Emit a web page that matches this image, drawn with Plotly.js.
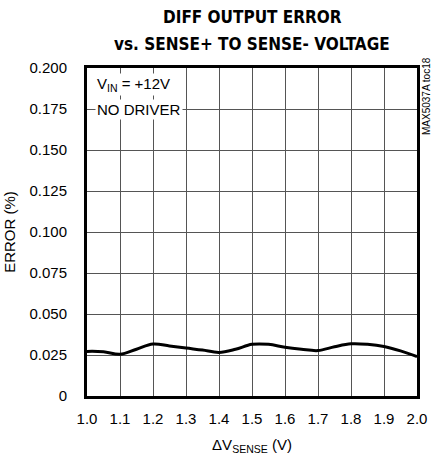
<!DOCTYPE html>
<html>
<head>
<meta charset="utf-8">
<script src="https://cdn.plot.ly/plotly-3.0.1.min.js"></script>
<style>html,body{margin:0;padding:0;background:#fff;}#chart{width:443px;height:458px;}</style>
</head>
<body>
<div id="chart"></div>
<script>
const xValues = [1.0, 1.05, 1.1, 1.15, 1.2, 1.25, 1.3, 1.35, 1.4, 1.45, 1.5, 1.55, 1.6, 1.65, 1.7, 1.75, 1.8, 1.85, 1.9, 1.95, 2.0];
const errorValues = [0.0272, 0.0270, 0.0254, 0.0285, 0.0317, 0.0305, 0.0292, 0.0280, 0.0266, 0.0285, 0.0315, 0.0315, 0.0297, 0.0285, 0.0277, 0.0300, 0.0318, 0.0315, 0.0302, 0.0275, 0.0240];
const xTicks = [1.0, 1.1, 1.2, 1.3, 1.4, 1.5, 1.6, 1.7, 1.8, 1.9, 2.0];
const xTickLabels = ["1.0", "1.1", "1.2", "1.3", "1.4", "1.5", "1.6", "1.7", "1.8", "1.9", "2.0"];
const yTicks = [0, 0.025, 0.05, 0.075, 0.1, 0.125, 0.15, 0.175, 0.2];
const yTickLabels = ["0", "0.025", "0.050", "0.075", "0.100", "0.125", "0.150", "0.175", "0.200"];
const titleLines = ["DIFF OUTPUT ERROR", "vs. SENSE+ TO SENSE- VOLTAGE"];

const FONT = "Liberation Sans, Arial, sans-serif";
const TFONT = "DejaVu Sans Condensed, Liberation Sans, sans-serif";

const trace = {
  x: xValues, y: errorValues, type: 'scatter', mode: 'lines',
  line: {color: '#000', width: 3, shape: 'spline', smoothing: 1},
  hoverinfo: 'skip'
};

const layout = {
  width: 443, height: 458,
  margin: {l: 87, r: 26, t: 68, b: 62},
  paper_bgcolor: '#fff', plot_bgcolor: '#fff',
  showlegend: false,
  font: {family: FONT, size: 15, color: '#000'},
  xaxis: {
    range: [1.0, 2.0], tickvals: xTicks, ticktext: xTickLabels,
    showgrid: true, gridcolor: '#555', gridwidth: 1,
    showline: true, linecolor: '#000', linewidth: 3, mirror: true,
    ticks: '', zeroline: false, tickfont: {family: FONT, size: 15},
    ticklabelstandoff: 7,
    title: {text: 'ΔV<sub>SENSE</sub> (V)', font: {family: FONT, size: 15}, standoff: 14}
  },
  yaxis: {
    range: [0, 0.2], tickvals: yTicks, ticktext: yTickLabels,
    showgrid: true, gridcolor: '#555', gridwidth: 1,
    showline: true, linecolor: '#000', linewidth: 3, mirror: true,
    ticks: '', zeroline: false, tickfont: {family: FONT, size: 15},
    ticklabelstandoff: 14,
    title: {text: 'ERROR (%)', font: {family: FONT, size: 15}, standoff: 11}
  },
  annotations: [
    {text: '<b>' + titleLines[0] + '</b>', xref: 'paper', yref: 'paper', x: 0.5, y: 1.157,
     xanchor: 'center', yanchor: 'middle', showarrow: false,
     font: {family: TFONT, size: 17, color: '#000'}},
    {text: '<b>' + titleLines[1] + '</b>', xref: 'paper', yref: 'paper', x: 0.5, y: 1.072,
     xanchor: 'center', yanchor: 'middle', showarrow: false,
     font: {family: TFONT, size: 17, color: '#000'}},
    {text: 'V<sub>IN</sub> = +12V', xref: 'paper', yref: 'paper', x: 0.025, y: 0.985,
     xanchor: 'left', yanchor: 'top', showarrow: false, bgcolor: '#fff',
     font: {family: FONT, size: 15}, borderpad: 1},
    {text: 'NO DRIVER', xref: 'paper', yref: 'paper', x: 0.025, y: 0.875,
     xanchor: 'left', yanchor: 'middle', showarrow: false, bgcolor: '#fff',
     font: {family: FONT, size: 15}, borderpad: 1},
    {text: 'MAX5037A toc18', xref: 'paper', yref: 'paper', x: 1.008, y: 1.04,
     xanchor: 'left', yanchor: 'top', showarrow: false, textangle: -90,
     font: {family: FONT, size: 10}}
  ]
};

Plotly.newPlot('chart', [trace], layout, {staticPlot: true, displayModeBar: false});
</script>
</body>
</html>
